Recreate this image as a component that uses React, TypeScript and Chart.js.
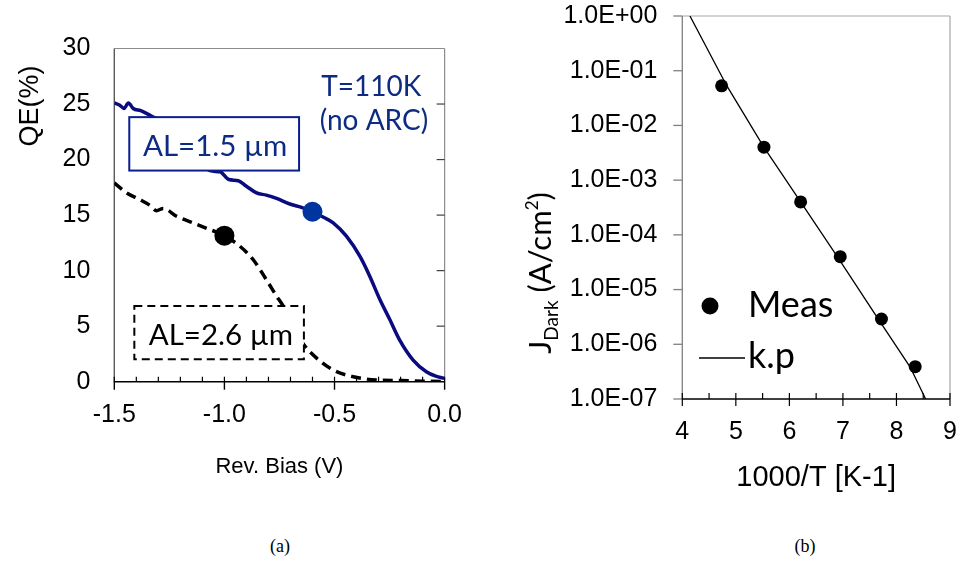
import React, { useEffect, useRef } from "react";
import { Chart, registerables } from "chart.js";

Chart.register(...registerables);

// ---------- Panel (a) data: QE vs reverse bias ----------
const biasBlue = [-1.5, -1.475, -1.456, -1.436, -1.414, -1.38, -1.33, -1.25, -1.15, -1.066, -1.02, -0.98, -0.937, -0.9, -0.854, -0.81, -0.763, -0.703, -0.65, -0.6, -0.55, -0.506, -0.446, -0.385, -0.34, -0.294, -0.249, -0.204, -0.143, -0.083, -0.04, 0];
const qeBlue = [25.1, 24.9, 24.6, 25.1, 24.6, 24.4, 23.9, 23.0, 21.4, 19.0, 18.9, 18.2, 18.1, 17.6, 17.0, 16.8, 16.5, 16.0, 15.7, 15.3, 14.8, 14.3, 13.1, 11.3, 9.5, 7.4, 5.6, 3.75, 1.95, 0.9, 0.5, 0.3];
const biasBlack = [-1.5, -1.444, -1.384, -1.34, -1.308, -1.278, -1.217, -1.142, -1.066, -1.0, -0.93, -0.87, -0.81, -0.763, -0.733, -0.69, -0.638, -0.58, -0.506, -0.415, -0.31, -0.2, -0.1, 0];
const qeBlack = [17.9, 17.0, 16.4, 15.9, 15.4, 15.6, 14.9, 14.3, 13.7, 13.15, 12.2, 11.0, 9.2, 7.7, 6.8, 5.0, 3.3, 2.1, 1.05, 0.45, 0.15, 0.1, 0.05, 0.0];
const markerBlueBias = [-0.6];
const markerBlueQe = [15.3];
const markerBlackBias = [-1.0];
const markerBlackQe = [13.15];
const xTicksA = [-1.5, -1.0, -0.5, 0.0];
const xTickLabelsA = ["-1.5", "-1.0", "-0.5", "0.0"];
const yTicksA = [0, 5, 10, 15, 20, 25, 30];
const yTickLabelsA = ["0", "5", "10", "15", "20", "25", "30"];

// ---------- Panel (b) data: dark current vs 1000/T ----------
const invTMeas = [4.735, 5.525, 6.21, 6.95, 7.72, 8.35];
const jMeas = [5.3e-2, 4.0e-3, 4.0e-4, 4.0e-5, 2.9e-6, 3.9e-7];
const invTKp = [4.143, 4.83, 5.526, 6.21, 6.895, 7.661, 8.253, 8.545];
const jKp = [1.0, 5.32e-2, 3.98e-3, 4.0e-4, 4.0e-5, 2.89e-6, 3.88e-7, 1.0e-7];
const xTicksB = [4, 5, 6, 7, 8, 9];
const xTickLabelsB = ["4", "5", "6", "7", "8", "9"];
const yTicksB = [1e-7, 1e-6, 1e-5, 1e-4, 1e-3, 1e-2, 1e-1, 1];
const yTickLabelsB = ["1.0E-07", "1.0E-06", "1.0E-05", "1.0E-04", "1.0E-03", "1.0E-02", "1.0E-01", "1.0E+00"];

const pts = (xs: number[], ys: number[]) => xs.map((x, i) => ({ x, y: ys[i] }));

const ARIAL = "'Liberation Sans', Arial, sans-serif";
const CALIBRI = "Lato, 'Open Sans', sans-serif";
const NAVY = "#0b0b80";
const TEXTBLUE = "#0d2b82";
const OY = 30; // canvas (b) is shifted up by this much

function line(ctx: CanvasRenderingContext2D, x1: number, y1: number, x2: number, y2: number, color: string, w: number) {
  ctx.beginPath();
  ctx.strokeStyle = color;
  ctx.lineWidth = w;
  ctx.moveTo(x1, y1);
  ctx.lineTo(x2, y2);
  ctx.stroke();
}

const frameA = {
  id: "frameA",
  beforeDatasetsDraw(chart: any) {
    const { ctx, chartArea: a, scales } = chart;
    const x = scales.x, y = scales.y;
    ctx.save();
    ctx.setLineDash([]);
    line(ctx, a.left, a.top, a.right, a.top, "#8c8c8c", 1.2);
    line(ctx, a.right, a.top, a.right, a.bottom, "#8c8c8c", 1.2);
    yTicksA.forEach((v) => {
      if (v === 0 || v === 30) return;
      const py = y.getPixelForValue(v);
      line(ctx, a.right - 8, py, a.right, py, "#404040", 1.2);
    });
    line(ctx, a.left, a.top, a.left, a.bottom, "#595959", 1.4);
    line(ctx, a.left - 0.5, a.bottom, a.right, a.bottom, "#000", 1.5);
    for (let i = 0; i <= 15; i++) {
      const px = x.getPixelForValue(-1.5 + i * 0.1);
      line(ctx, px, a.bottom - 5, px, a.bottom, "#000", 1.2);
    }
    xTicksA.forEach((v) => {
      const px = x.getPixelForValue(v);
      line(ctx, px, a.bottom, px, a.bottom + 8, "#000", 1.4);
    });
    ctx.restore();
  },
  afterDatasetsDraw(chart: any) {
    const { ctx, scales } = chart;
    const x = scales.x, y = scales.y;
    const X = (v: number) => x.getPixelForValue(v);
    const Y = (v: number) => y.getPixelForValue(v);
    ctx.save();
    ctx.setLineDash([]);
    ctx.fillStyle = "#fff";
    ctx.fillRect(X(-1.432), Y(23.82), X(-0.661) - X(-1.432), Y(19.01) - Y(23.82));
    ctx.strokeStyle = "#0a1f8f";
    ctx.lineWidth = 2;
    ctx.strokeRect(X(-1.432), Y(23.82), X(-0.661) - X(-1.432), Y(19.01) - Y(23.82));
    ctx.fillRect(X(-1.409), Y(6.82), X(-0.639) - X(-1.409), Y(2.02) - Y(6.82));
    ctx.setLineDash([8, 5]);
    ctx.strokeStyle = "#000";
    ctx.strokeRect(X(-1.409), Y(6.82), X(-0.639) - X(-1.409), Y(2.02) - Y(6.82));
    ctx.setLineDash([]);
    ctx.textBaseline = "alphabetic";
    ctx.textAlign = "center";
    ctx.font = `28px ${CALIBRI}`;
    ctx.fillStyle = TEXTBLUE;
    ctx.fillText("T=110K", X(-0.333), Y(25.68));
    ctx.fillText("(no ARC)", X(-0.321), Y(22.68));
    ctx.font = `29.5px ${CALIBRI}`;
    ctx.fillText("AL=1.5 µm", X(-1.042), Y(20.33));
    ctx.fillStyle = "#000";
    ctx.fillText("AL=2.6 µm", X(-1.016), Y(3.31));
    ctx.translate(31, 106);
    ctx.rotate(-Math.PI / 2);
    ctx.textBaseline = "middle";
    ctx.font = `27px ${ARIAL}`;
    ctx.fillStyle = "#000";
    ctx.fillText("QE(%)", 0, 0);
    ctx.restore();
  },
};

const frameB = {
  id: "frameB",
  beforeDatasetsDraw(chart: any) {
    const { ctx, chartArea: a, scales } = chart;
    const x = scales.x, y = scales.y;
    ctx.save();
    line(ctx, a.left, a.top, a.right, a.top, "#a6a6a6", 1.2);
    line(ctx, a.right, a.top, a.right, a.bottom, "#a6a6a6", 1.2);
    line(ctx, a.left, a.top, a.left, a.bottom, "#808080", 1.3);
    yTicksB.forEach((v) => {
      const py = y.getPixelForValue(v);
      line(ctx, a.left - 9, py, a.left, py, "#808080", 1.3);
    });
    line(ctx, a.left, a.bottom, a.right, a.bottom, "#000", 1.4);
    for (let i = 0; i <= 10; i++) {
      const v = 4 + i * 0.5;
      const px = x.getPixelForValue(v);
      const major = i % 2 === 0;
      line(ctx, px, a.bottom - 6, px, a.bottom + (major ? 7 : 0), "#000", 1.2);
    }
    ctx.restore();
  },
  afterDatasetsDraw(chart: any) {
    const { ctx } = chart;
    ctx.save();
    ctx.fillStyle = "#000";
    ctx.beginPath();
    ctx.arc(230, 306 + OY, 8.5, 0, Math.PI * 2);
    ctx.fill();
    line(ctx, 219, 358 + OY, 265, 358 + OY, "#000", 1.4);
    ctx.font = `36px ${CALIBRI}`;
    ctx.textAlign = "left";
    ctx.textBaseline = "alphabetic";
    ctx.fillText("Meas", 268, 317 + OY);
    ctx.fillText("k.p", 268, 368 + OY);
    const parts = [
      { t: "J", s: 31, dy: 0 },
      { t: "Dark", s: 19, dy: 7 },
      { t: " (A/cm", s: 31, dy: 0 },
      { t: "2", s: 17, dy: -13 },
      { t: ")", s: 31, dy: 0 },
    ];
    let total = 0;
    const widths = parts.map((p) => {
      ctx.font = `${p.s}px ${CALIBRI}`;
      const w = ctx.measureText(p.t).width;
      total += w;
      return w;
    });
    ctx.translate(71, 273 + OY);
    ctx.rotate(-Math.PI / 2);
    let cx = -total / 2;
    parts.forEach((p, i) => {
      ctx.font = `${p.s}px ${CALIBRI}`;
      ctx.fillText(p.t, cx, p.dy);
      cx += widths[i];
    });
    ctx.restore();
  },
};

function ChartA() {
  const ref = useRef<HTMLCanvasElement | null>(null);
  useEffect(() => {
    if (!ref.current) return;
    const chart = new Chart(ref.current, {
      type: "line",
      data: {
        datasets: [
          { data: pts(markerBlueBias, markerBlueQe), showLine: false, pointRadius: 10, pointBackgroundColor: "#0035a0", pointBorderWidth: 0, borderColor: "#0035a0" },
          { data: pts(markerBlackBias, markerBlackQe), showLine: false, pointRadius: 10, pointBackgroundColor: "#000", pointBorderWidth: 0, borderColor: "#000" },
          { data: pts(biasBlue, qeBlue), borderColor: NAVY, borderWidth: 3.5, pointRadius: 0, cubicInterpolationMode: "monotone", fill: false },
          { data: pts(biasBlack, qeBlack), borderColor: "#000", borderWidth: 3.5, borderDash: [10, 6], pointRadius: 0, cubicInterpolationMode: "monotone", fill: false },
        ],
      } as any,
      options: {
        animation: false,
        responsive: false,
        events: [],
        layout: { padding: { top: 48.5, right: 35, left: 0, bottom: 0 } },
        plugins: { legend: { display: false }, tooltip: { enabled: false } },
        scales: {
          x: {
            type: "linear",
            min: -1.5,
            max: 0,
            grid: { display: false, drawTicks: false },
            border: { display: false },
            afterBuildTicks: (s: any) => { s.ticks = xTicksA.map((v) => ({ value: v })); },
            afterFit: (s: any) => { s.height = 138.3; },
            ticks: {
              autoSkip: false,
              maxRotation: 0,
              padding: 18,
              color: "#000",
              font: { family: ARIAL, size: 25 },
              callback: (_v: any, i: number) => xTickLabelsA[i],
            },
            title: {
              display: true,
              text: "Rev. Bias (V)",
              color: "#000",
              font: { family: ARIAL, size: 22 },
              padding: { top: 0, bottom: 39.8 },
            },
          },
          y: {
            type: "linear",
            min: 0,
            max: 30,
            grid: { display: false, drawTicks: false },
            border: { display: false },
            afterBuildTicks: (s: any) => { s.ticks = yTicksA.map((v) => ({ value: v })); },
            afterFit: (s: any) => { s.width = 114.3; },
            ticks: {
              autoSkip: false,
              padding: 24,
              color: "#000",
              font: { family: ARIAL, size: 25 },
              callback: (_v: any, i: number) => yTickLabelsA[i],
            },
          },
        },
      } as any,
      plugins: [frameA],
    });
    return () => chart.destroy();
  }, []);
  return <canvas ref={ref} width={480} height={520} style={{ position: "absolute", left: 0, top: 0 }} />;
}

function ChartB() {
  const ref = useRef<HTMLCanvasElement | null>(null);
  useEffect(() => {
    if (!ref.current) return;
    const chart = new Chart(ref.current, {
      type: "line",
      data: {
        datasets: [
          { data: pts(invTMeas, jMeas), showLine: false, pointRadius: 6.5, pointBackgroundColor: "#000", pointBorderWidth: 0, borderColor: "#000" },
          { data: pts(invTKp, jKp), borderColor: "#000", borderWidth: 1.3, pointRadius: 0, tension: 0, fill: false },
        ],
      } as any,
      options: {
        animation: false,
        responsive: false,
        events: [],
        layout: { padding: { top: 16 + OY, right: 30, left: 0, bottom: 0 } },
        plugins: { legend: { display: false }, tooltip: { enabled: false } },
        scales: {
          x: {
            type: "linear",
            min: 4,
            max: 9,
            grid: { display: false, drawTicks: false },
            border: { display: false },
            afterBuildTicks: (s: any) => { s.ticks = xTicksB.map((v) => ({ value: v })); },
            afterFit: (s: any) => { s.height = 121; },
            ticks: {
              autoSkip: false,
              maxRotation: 0,
              padding: 18,
              color: "#000",
              font: { family: ARIAL, size: 25 },
              callback: (_v: any, i: number) => xTickLabelsB[i],
            },
            title: {
              display: true,
              text: "1000/T [K-1]",
              color: "#000",
              font: { family: ARIAL, size: 29 },
              padding: { top: 0, bottom: 24.6 },
            },
          },
          y: {
            type: "logarithmic",
            min: 1e-7,
            max: 1,
            grid: { display: false, drawTicks: false },
            border: { display: false },
            afterBuildTicks: (s: any) => { s.ticks = yTicksB.map((v) => ({ value: v })); },
            afterFit: (s: any) => { s.width = 202.3; },
            ticks: {
              autoSkip: false,
              padding: 25,
              color: "#000",
              font: { family: ARIAL, size: 25 },
              callback: (_v: any, i: number) => yTickLabelsB[i],
            },
          },
        },
      } as any,
      plugins: [frameB],
    });
    return () => chart.destroy();
  }, []);
  return <canvas ref={ref} width={500} height={520 + OY} style={{ position: "absolute", left: 480, top: -OY }} />;
}

export default function App() {
  const cap: React.CSSProperties = {
    position: "absolute",
    top: 535,
    width: 60,
    textAlign: "center",
    fontFamily: "'Liberation Serif', 'Times New Roman', serif",
    fontSize: 18,
    lineHeight: "22px",
    color: "#000",
  };
  return (
    <div style={{ position: "absolute", left: 0, top: 0, width: 962, height: 563, background: "#fff", overflow: "hidden" }}>
      <ChartA />
      <ChartB />
      <div style={{ ...cap, left: 250 }}>(a)</div>
      <div style={{ ...cap, left: 775 }}>(b)</div>
    </div>
  );
}
